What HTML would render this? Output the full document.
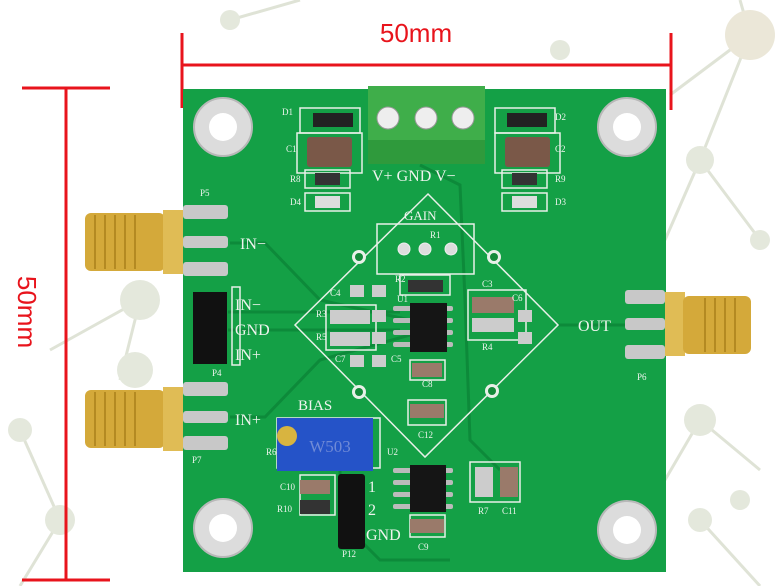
<!DOCTYPE html>
<html><head><meta charset="utf-8"><style>
html,body{margin:0;padding:0;background:#fff;}
svg{display:block;}
</style></head><body>
<svg width="780" height="586" viewBox="0 0 780 586" xmlns="http://www.w3.org/2000/svg" font-family="Liberation Serif, serif">
<!-- faint network background -->
<g stroke="#dfe3d6" stroke-width="3" fill="none">
<line x1="750" y1="35" x2="700" y2="160"/><line x1="750" y1="35" x2="670" y2="95"/><line x1="750" y1="35" x2="740" y2="0"/>
<line x1="700" y1="160" x2="760" y2="240"/><line x1="700" y1="160" x2="665" y2="240"/>
<line x1="140" y1="300" x2="50" y2="350"/><line x1="140" y1="300" x2="120" y2="380"/><line x1="20" y1="430" x2="60" y2="520"/>
<line x1="700" y1="420" x2="760" y2="470"/><line x1="700" y1="420" x2="665" y2="480"/><line x1="230" y1="20" x2="300" y2="0"/>
<line x1="60" y1="520" x2="20" y2="586"/><line x1="700" y1="520" x2="760" y2="586"/>
</g>
<g fill="#e4e8dc">
<circle cx="750" cy="35" r="25" fill="#ebe7d8"/><circle cx="700" cy="160" r="14"/><circle cx="760" cy="240" r="10"/>
<circle cx="140" cy="300" r="20"/><circle cx="135" cy="370" r="18"/><circle cx="20" cy="430" r="12"/><circle cx="60" cy="520" r="15"/>
<circle cx="700" cy="420" r="16"/><circle cx="740" cy="500" r="10"/><circle cx="230" cy="20" r="10"/><circle cx="700" cy="520" r="12"/>
<circle cx="560" cy="50" r="10"/>
</g>
<!-- dimension lines -->
<g stroke="#e8141c" stroke-width="3">
<line x1="182" y1="65" x2="671" y2="65"/><line x1="182" y1="33" x2="182" y2="108"/><line x1="671" y1="33" x2="671" y2="110"/>
<line x1="66" y1="88" x2="66" y2="580"/><line x1="22" y1="88" x2="110" y2="88"/><line x1="22" y1="580" x2="110" y2="580"/>
</g>
<text x="416" y="42" font-family="Liberation Sans, sans-serif" font-size="26" fill="#e8141c" text-anchor="middle">50mm</text>
<text transform="translate(18,312) rotate(90)" font-family="Liberation Sans, sans-serif" font-size="26" fill="#e8141c" text-anchor="middle">50mm</text>
<!-- board -->
<rect x="183" y="89" width="483" height="483" fill="#14a046"/>
<!-- traces -->
<g stroke="#0d8a3a" stroke-width="3" fill="none">
<path d="M230 243 L265 243 L320 300 L410 320"/><path d="M230 417 L265 417 L320 360 L410 335"/>
<path d="M228 312 L400 312"/><path d="M228 330 L400 330"/><path d="M558 325 L635 325"/>
<path d="M420 165 L460 185 L465 300 L470 440 L500 470"/>
<path d="M340 460 L340 520 L380 560 L450 560"/>
</g>
<!-- mounting holes -->
<g>
<circle cx="223" cy="127" r="29" fill="#dcdcdc" stroke="#b8b8b8" stroke-width="2"/><circle cx="223" cy="127" r="14" fill="#fff"/>
<circle cx="627" cy="127" r="29" fill="#dcdcdc" stroke="#b8b8b8" stroke-width="2"/><circle cx="627" cy="127" r="14" fill="#fff"/>
<circle cx="223" cy="528" r="29" fill="#dcdcdc" stroke="#b8b8b8" stroke-width="2"/><circle cx="223" cy="528" r="14" fill="#fff"/>
<circle cx="627" cy="530" r="29" fill="#dcdcdc" stroke="#b8b8b8" stroke-width="2"/><circle cx="627" cy="530" r="14" fill="#fff"/>
</g>
<!-- silkscreen -->
<g stroke="#e8f0e8" stroke-width="1.5" fill="none">
<path d="M428 194 L558 325 L425 457 L295 325 Z"/>
<rect x="377" y="224" width="97" height="50"/>
<rect x="300" y="108" width="60" height="25"/><rect x="297" y="133" width="65" height="40"/>
<rect x="495" y="108" width="60" height="25"/><rect x="495" y="133" width="65" height="40"/>
<rect x="305" y="170" width="45" height="18"/><rect x="305" y="193" width="45" height="18"/>
<rect x="502" y="170" width="45" height="18"/><rect x="502" y="193" width="45" height="18"/>
<rect x="468" y="290" width="58" height="50"/><rect x="326" y="305" width="50" height="45"/>
<rect x="400" y="275" width="50" height="20"/><rect x="410" y="360" width="35" height="20"/>
<rect x="408" y="400" width="38" height="25"/><rect x="277" y="418" width="103" height="50"/>
<rect x="300" y="475" width="35" height="40"/><rect x="470" y="462" width="50" height="40"/>
<rect x="410" y="515" width="35" height="22"/><rect x="232" y="287" width="8" height="78"/>
</g>
<g fill="#e8f0e8">
<circle cx="359" cy="257" r="7"/><circle cx="494" cy="257" r="7"/><circle cx="359" cy="392" r="7"/><circle cx="492" cy="391" r="7"/>
</g>
<g fill="#148a3a"><circle cx="359" cy="257" r="4"/><circle cx="494" cy="257" r="4"/><circle cx="359" cy="392" r="4"/><circle cx="492" cy="391" r="4"/></g>
<!-- R1 pads -->
<g fill="#ddd" stroke="#eee"><circle cx="404" cy="249" r="6"/><circle cx="425" cy="249" r="6"/><circle cx="451" cy="249" r="6"/></g>
<!-- components -->
<g>
<rect x="313" y="113" width="40" height="14" fill="#222"/><rect x="507" y="113" width="40" height="14" fill="#222"/>
<rect x="307" y="137" width="45" height="30" rx="3" fill="#7a5848"/><rect x="505" y="137" width="45" height="30" rx="3" fill="#7a5848"/>
<rect x="315" y="173" width="25" height="12" fill="#333"/><rect x="512" y="173" width="25" height="12" fill="#333"/>
<rect x="315" y="196" width="25" height="12" fill="#ddd"/><rect x="512" y="196" width="25" height="12" fill="#ddd"/>
<rect x="408" y="280" width="35" height="12" fill="#333"/>
<rect x="330" y="310" width="40" height="14" fill="#ccc"/><rect x="330" y="332" width="40" height="14" fill="#ccc"/>
<rect x="472" y="297" width="42" height="16" fill="#9a7a6a"/><rect x="472" y="318" width="42" height="14" fill="#ccc"/>
<rect x="412" y="363" width="30" height="14" fill="#9a7a6a"/><rect x="410" y="404" width="34" height="14" fill="#9a7a6a"/>
<rect x="410" y="519" width="34" height="14" fill="#9a7a6a"/>
<rect x="300" y="480" width="30" height="14" fill="#9a7a6a"/><rect x="300" y="500" width="30" height="14" fill="#333"/>
<rect x="475" y="467" width="18" height="30" fill="#ccc"/><rect x="500" y="467" width="18" height="30" fill="#9a7a6a"/>
<rect x="350" y="285" width="14" height="12" fill="#ccc"/><rect x="372" y="285" width="14" height="12" fill="#ccc"/>
<rect x="350" y="355" width="14" height="12" fill="#ccc"/><rect x="372" y="355" width="14" height="12" fill="#ccc"/>
<rect x="372" y="310" width="14" height="12" fill="#ccc"/><rect x="372" y="332" width="14" height="12" fill="#ccc"/>
<rect x="518" y="310" width="14" height="12" fill="#ccc"/><rect x="518" y="332" width="14" height="12" fill="#ccc"/>
</g>
<!-- ICs -->
<g fill="#bbb">
<rect x="393" y="306" width="60" height="5" rx="2"/><rect x="393" y="318" width="60" height="5" rx="2"/><rect x="393" y="330" width="60" height="5" rx="2"/><rect x="393" y="342" width="60" height="5" rx="2"/>
<rect x="393" y="468" width="60" height="5" rx="2"/><rect x="393" y="480" width="60" height="5" rx="2"/><rect x="393" y="492" width="60" height="5" rx="2"/><rect x="393" y="504" width="60" height="5" rx="2"/>
</g>
<rect x="410" y="303" width="37" height="49" fill="#151515"/>
<rect x="410" y="465" width="36" height="47" fill="#151515"/>
<!-- terminal block -->
<rect x="368" y="86" width="117" height="78" fill="#3fae4a"/>
<rect x="368" y="140" width="117" height="24" fill="#2f9a3c"/>
<g fill="#eee" stroke="#999"><circle cx="388" cy="118" r="11"/><circle cx="426" cy="118" r="11"/><circle cx="463" cy="118" r="11"/></g>
<!-- pot -->
<rect x="277" y="418" width="96" height="53" fill="#2553c8"/>
<circle cx="287" cy="436" r="10" fill="#d8b440"/>
<text x="330" y="452" font-size="17" fill="#6f8ad6" text-anchor="middle">W503</text>
<!-- jumpers -->
<rect x="193" y="292" width="34" height="72" fill="#111"/>
<rect x="338" y="474" width="27" height="75" rx="3" fill="#111"/>
<!-- SMA left top -->
<rect x="85" y="213" width="80" height="58" rx="6" fill="#d4a93a"/>
<g stroke="#b48a22" stroke-width="2"><line x1="95" y1="215" x2="95" y2="269"/><line x1="105" y1="215" x2="105" y2="269"/><line x1="115" y1="215" x2="115" y2="269"/><line x1="125" y1="215" x2="125" y2="269"/><line x1="135" y1="215" x2="135" y2="269"/></g>
<rect x="163" y="210" width="20" height="64" fill="#e0bc55"/>
<rect x="85" y="390" width="80" height="58" rx="6" fill="#d4a93a"/>
<g stroke="#b48a22" stroke-width="2"><line x1="95" y1="392" x2="95" y2="446"/><line x1="105" y1="392" x2="105" y2="446"/><line x1="115" y1="392" x2="115" y2="446"/><line x1="125" y1="392" x2="125" y2="446"/><line x1="135" y1="392" x2="135" y2="446"/></g>
<rect x="163" y="387" width="20" height="64" fill="#e0bc55"/>
<g fill="#c8c8c8"><rect x="183" y="205" width="45" height="14" rx="3"/><rect x="183" y="236" width="45" height="12" rx="3"/><rect x="183" y="262" width="45" height="14" rx="3"/>
<rect x="183" y="382" width="45" height="14" rx="3"/><rect x="183" y="411" width="45" height="12" rx="3"/><rect x="183" y="436" width="45" height="14" rx="3"/>
<rect x="625" y="290" width="40" height="14" rx="3"/><rect x="625" y="318" width="40" height="12" rx="3"/><rect x="625" y="345" width="40" height="14" rx="3"/></g>
<!-- SMA right -->
<rect x="665" y="292" width="20" height="64" fill="#e0bc55"/>
<rect x="683" y="296" width="68" height="58" rx="6" fill="#d4a93a"/>
<g stroke="#b48a22" stroke-width="2"><line x1="705" y1="298" x2="705" y2="352"/><line x1="715" y1="298" x2="715" y2="352"/><line x1="725" y1="298" x2="725" y2="352"/><line x1="735" y1="298" x2="735" y2="352"/></g>
<!-- labels -->
<g fill="#eef4ee" font-size="16">
<text x="240" y="249">IN−</text><text x="235" y="310">IN−</text><text x="235" y="335">GND</text><text x="235" y="360">IN+</text>
<text x="235" y="425">IN+</text><text x="578" y="331">OUT</text><text x="372" y="181">V+ GND V−</text>
<text x="404" y="220" font-size="13">GAIN</text><text x="298" y="410" font-size="15">BIAS</text>
<text x="368" y="492">1</text><text x="368" y="515">2</text><text x="366" y="540">GND</text>
</g>
<g fill="#eef4ee" font-size="9">
<text x="282" y="115">D1</text><text x="286" y="152">C1</text><text x="290" y="182">R8</text><text x="290" y="205">D4</text>
<text x="555" y="120">D2</text><text x="555" y="152">C2</text><text x="555" y="182">R9</text><text x="555" y="205">D3</text>
<text x="200" y="196">P5</text><text x="212" y="376">P4</text><text x="192" y="463">P7</text><text x="637" y="380">P6</text>
<text x="430" y="238">R1</text><text x="395" y="282">R2</text><text x="330" y="296">C4</text><text x="316" y="317">R3</text><text x="316" y="340">R5</text>
<text x="335" y="362">C7</text><text x="391" y="362">C5</text><text x="482" y="287">C3</text><text x="512" y="301">C6</text><text x="482" y="350">R4</text>
<text x="422" y="387">C8</text><text x="418" y="438">C12</text><text x="387" y="455">U2</text><text x="397" y="302">U1</text>
<text x="280" y="490">C10</text><text x="277" y="512">R10</text><text x="342" y="557">P12</text><text x="418" y="550">C9</text>
<text x="478" y="514">R7</text><text x="502" y="514">C11</text><text x="266" y="455">R6</text>
</g>
</svg>
</body></html>
